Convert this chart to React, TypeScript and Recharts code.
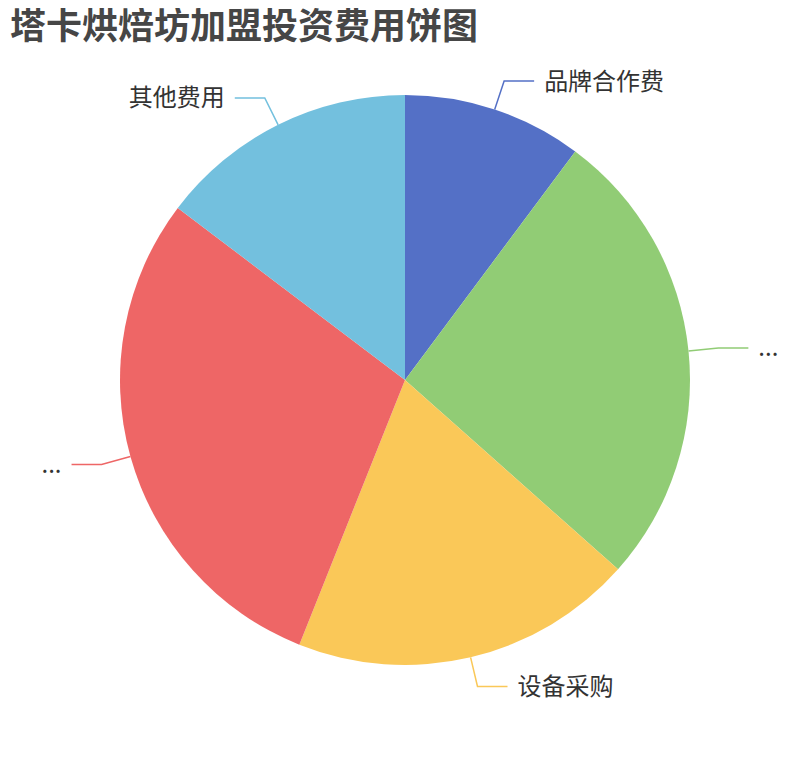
import React from "react";
import { PieChart, Pie, Cell } from "recharts";

const categories = ["品牌合作费", "店面装修", "设备采购", "房租押金", "其他费用"];
const shownLabels = ["品牌合作费", "...", "设备采购", "...", "其他费用"];
const values = [10.2, 26.4, 19.5, 29.3, 14.7];
const colors = ["#5470c6", "#91cc75", "#fac858", "#ee6666", "#73c0de"];
const title = "塔卡烘焙坊加盟投资费用饼图";

const data = categories.map((name, i) => ({ name, value: values[i], label: shownLabels[i] }));

const RAD = Math.PI / 180;

const renderLabel = (props: any) => {
  const { cx, cy, midAngle, outerRadius, index } = props;
  const cos = Math.cos(-midAngle * RAD);
  const sin = Math.sin(-midAngle * RAD);
  const sx = cx + outerRadius * cos;
  const sy = cy + outerRadius * sin;
  const mx = cx + (outerRadius + 30) * cos;
  const my = cy + (outerRadius + 30) * sin;
  const dir = cos >= 0 ? 1 : -1;
  const ex = mx + dir * 30;
  const ey = my;
  return (
    <g key={`lbl-${index}`}>
      <polyline
        points={`${sx},${sy} ${mx},${my} ${ex},${ey}`}
        fill="none"
        stroke={colors[index]}
        strokeWidth={1.5}
      />
      <text
        x={ex + dir * 10}
        y={ey - 2}
        textAnchor={dir > 0 ? "start" : "end"}
        dominantBaseline="central"
        fill="#333"
        fontSize={24}
        fontFamily="'Noto Sans CJK SC', 'Noto Sans', sans-serif"
      >
        {shownLabels[index]}
      </text>
    </g>
  );
};

export default function App() {
  return (
    <div style={{ width: 794, height: 744, position: "relative" }}>
      <PieChart width={794} height={744} margin={{ top: 0, right: 0, bottom: 0, left: 0 }}>
        <text
          x={2}
          y={31}
          fill="#464646"
          fontSize={36}
          fontWeight="bold"
          fontFamily="'Noto Sans CJK SC', 'Noto Sans', sans-serif"
        >
          {title}
        </text>
        <Pie
          data={data}
          dataKey="value"
          nameKey="name"
          cx={397}
          cy={372}
          outerRadius={285}
          startAngle={90}
          endAngle={-270}
          stroke="none"
          label={renderLabel}
          labelLine={false}
          isAnimationActive={false}
        >
          {data.map((d, i) => (
            <Cell key={d.name} fill={colors[i]} />
          ))}
        </Pie>
      </PieChart>
    </div>
  );
}
